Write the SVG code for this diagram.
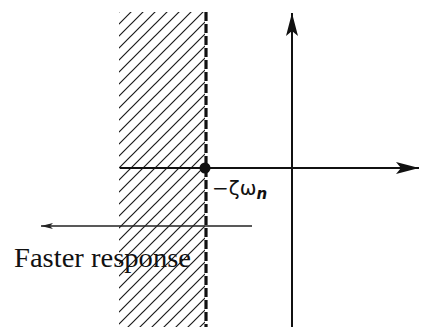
<svg xmlns="http://www.w3.org/2000/svg" width="421" height="327" viewBox="0 0 421 327">
  <style>
    .axis { stroke: #111; stroke-width: 2; fill: none; }
    .thin { stroke: #222; stroke-width: 1.3; fill: none; }
    .dash { stroke: #111; stroke-width: 3.2; stroke-dasharray: 9 3; fill: none; }
    .serif { font-family: "Liberation Serif", "Times New Roman", serif; fill: #111; }
    .sans { font-family: "DejaVu Sans", "Liberation Sans", sans-serif; fill: #111; }
  </style>
  <defs>
    <pattern id="hatch" patternUnits="userSpaceOnUse" width="12" height="12" x="119" y="0">
      <path d="M-1,13 L13,-1 M-4,4 L4,-4 M8,16 L16,8" stroke="#1a1a1a" stroke-width="1.2"/>
    </pattern>
    <marker id="bigArrow" markerUnits="userSpaceOnUse" markerWidth="26" markerHeight="14" refX="23" refY="6" orient="auto" overflow="visible">
      <path d="M23,6 L0,0 L5,6 L0,12 Z" fill="#111"/>
    </marker>
    <marker id="smallArrow" markerUnits="userSpaceOnUse" markerWidth="14" markerHeight="8" refX="12" refY="3" orient="auto" overflow="visible">
      <path d="M12,3 L0,0 L3,3 L0,6 Z" fill="#222"/>
    </marker>
  </defs>
  <rect width="421" height="327" fill="#fff"/>

  <g id="stable-region">
    <rect x="119" y="12" width="86" height="315" fill="url(#hatch)"/>
  </g>

  <g id="connectors">
    <line id="real-axis" class="axis" x1="120" y1="168" x2="419" y2="168" marker-end="url(#bigArrow)"/>
    <line id="imag-axis" class="axis" x1="292" y1="327" x2="292" y2="13" marker-end="url(#bigArrow)"/>
    <line id="boundary" class="dash" x1="206" y1="12" x2="206" y2="327"/>
    <line id="faster-arrow" class="thin" x1="252" y1="226" x2="41" y2="226" marker-end="url(#smallArrow)"/>
  </g>

  <g id="pole-point">
    <circle cx="205" cy="168" r="5.5" fill="#111"/>
  </g>

  <g id="label-zeta-omega">
    <text class="sans" x="212" y="195" font-size="20">−ζω<tspan font-size="15" font-style="italic" font-weight="bold" dy="4">n</tspan></text>
  </g>

  <g id="label-faster">
    <text class="serif" x="14" y="267" font-size="27" textLength="177" lengthAdjust="spacingAndGlyphs">Faster response</text>
  </g>
</svg>
